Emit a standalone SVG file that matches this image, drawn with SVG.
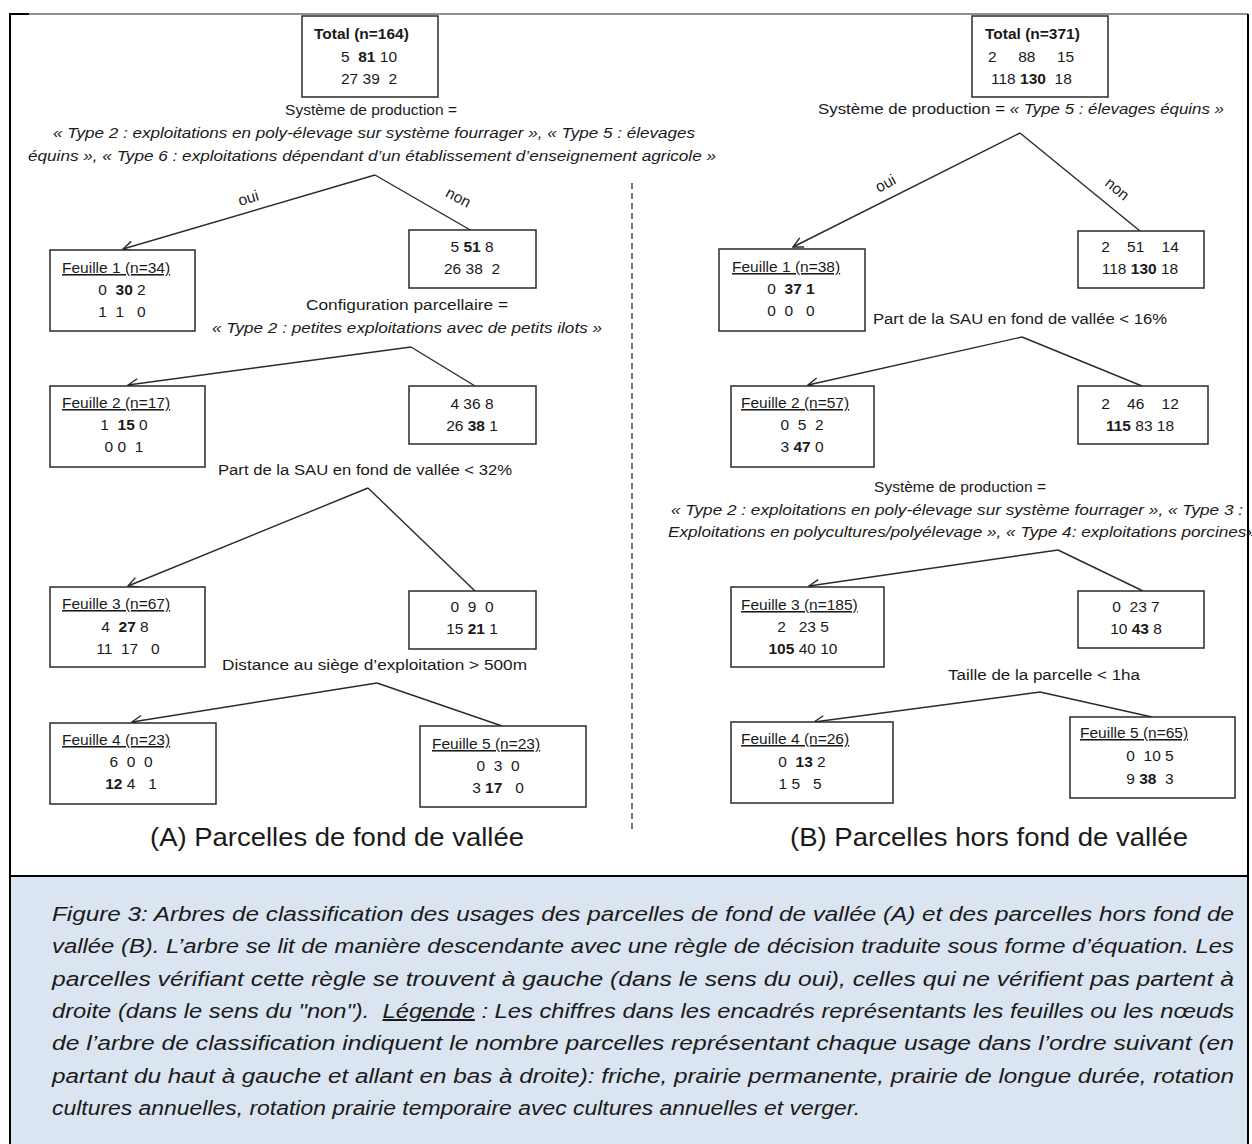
<svg xmlns="http://www.w3.org/2000/svg" width="1252" height="1144" viewBox="0 0 1252 1144">
<style>
.bx{fill:#fff;stroke:#2a2a2a;stroke-width:1.5}
.t{font-family:"Liberation Sans",Arial,sans-serif;font-size:15.5px;fill:#1a1a1a}
.c{text-anchor:middle}
.b{font-weight:bold}
.i{font-style:italic}
.u{text-decoration:underline}
.ln{fill:none;stroke:#2a2a2a;stroke-width:1.4}
.cap{font-family:"Liberation Sans",Arial,sans-serif;font-size:20px;font-style:italic;fill:#1a1a1a}
.ttl{font-family:"Liberation Sans",Arial,sans-serif;font-size:25px;fill:#1a1a1a}
</style>
<defs>
<marker id="ah" viewBox="0 0 12 12" refX="11" refY="6" markerWidth="12" markerHeight="12" markerUnits="userSpaceOnUse" orient="auto">
<path d="M1,1 L11,6 L1,11" fill="none" stroke="#2a2a2a" stroke-width="1.4"/>
</marker>
</defs>
<rect x="0" y="0" width="1252" height="1144" fill="#fff"/>
<!-- frame -->
<rect x="10" y="877" width="1238" height="267" fill="#dbe5f1"/>
<line x1="9" y1="14" x2="1248" y2="14" stroke="#222" stroke-width="1"/>
<line x1="9" y1="14" x2="29" y2="14" stroke="#000" stroke-width="2"/>
<line x1="10" y1="14" x2="10" y2="1144" stroke="#000" stroke-width="2"/>
<line x1="1248" y1="14" x2="1248" y2="1144" stroke="#000" stroke-width="2"/>
<line x1="10" y1="876" x2="1248" y2="876" stroke="#000" stroke-width="2"/>
<line x1="632" y1="183" x2="632" y2="830" stroke="#2a2a2a" stroke-width="1.3" stroke-dasharray="6 4"/>

<g id="connectors">
<path class="ln" d="M375,175 L123,249" marker-end="url(#ah)"/>
<path class="ln" d="M375,175 L472,231"/>
<path class="ln" d="M411,347 L128,385" marker-end="url(#ah)"/>
<path class="ln" d="M411,347 L475,386"/>
<path class="ln" d="M368,488 L128,586" marker-end="url(#ah)"/>
<path class="ln" d="M368,488 L475,591"/>
<path class="ln" d="M377,683 L132,722" marker-end="url(#ah)"/>
<path class="ln" d="M377,683 L502,726"/>
<path class="ln" d="M1020,133 L793,247" marker-end="url(#ah)"/>
<path class="ln" d="M1020,133 L1140,231"/>
<path class="ln" d="M1022,337 L808,385" marker-end="url(#ah)"/>
<path class="ln" d="M1022,337 L1142,386"/>
<path class="ln" d="M1058,550 L809,586" marker-end="url(#ah)"/>
<path class="ln" d="M1058,550 L1143,591"/>
<path class="ln" d="M1040,692 L814,722" marker-end="url(#ah)"/>
<path class="ln" d="M1040,692 L1152,717"/>
<text class="t c" transform="translate(250,203) rotate(-17)">oui</text>
<text class="t c" transform="translate(456,202) rotate(28)">non</text>
<text class="t c" transform="translate(888,188) rotate(-28)">oui</text>
<text class="t c" transform="translate(1114,193) rotate(39)">non</text>
</g>

<!-- condition labels -->
<g id="rules">
<text class="t c" x="371" y="115">Système de production =</text>
<text class="t i" x="53" y="138" textLength="642" lengthAdjust="spacingAndGlyphs">« Type 2 : exploitations en poly-élevage sur système fourrager », « Type 5 :  élevages</text>
<text class="t i" x="28" y="161" textLength="688" lengthAdjust="spacingAndGlyphs">équins », « Type 6 : exploitations dépendant d’un établissement d’enseignement agricole »</text>
<text class="t" x="306" y="310" textLength="202" lengthAdjust="spacingAndGlyphs">Configuration parcellaire =</text>
<text class="t i" x="212" y="333" textLength="390" lengthAdjust="spacingAndGlyphs">« Type 2 : petites exploitations avec de petits ilots »</text>
<text class="t" x="218" y="475" textLength="294" lengthAdjust="spacingAndGlyphs">Part de la SAU en fond de vallée &lt; 32%</text>
<text class="t" x="222" y="670" textLength="305" lengthAdjust="spacingAndGlyphs">Distance au siège d’exploitation &gt; 500m</text>
<text class="t" x="818" y="114" textLength="406" lengthAdjust="spacingAndGlyphs">Système de production = <tspan class="i">« Type 5 :  élevages équins »</tspan></text>
<text class="t" x="873" y="324" textLength="294" lengthAdjust="spacingAndGlyphs">Part de la SAU en fond de vallée &lt; 16%</text>
<text class="t c" x="960" y="492">Système de production =</text>
<text class="t i" x="671" y="515" textLength="572" lengthAdjust="spacingAndGlyphs">« Type 2 : exploitations en poly-élevage sur système fourrager », « Type 3 :</text>
<text class="t i" x="668" y="537" textLength="588" lengthAdjust="spacingAndGlyphs">Exploitations en polycultures/polyélevage  », « Type 4: exploitations porcines»</text>
<text class="t" x="948" y="680" textLength="192" lengthAdjust="spacingAndGlyphs">Taille de la parcelle &lt; 1ha</text>
</g>

<!-- Left tree -->
<g id="A-total">
<rect class="bx" x="302" y="16" width="136" height="81"/>
<text class="t b" x="314" y="39">Total (n=164)</text>
<text class="t c" x="369" y="62" xml:space="preserve">5  <tspan class="b">81</tspan> 10</text>
<text class="t c" x="369" y="84" xml:space="preserve">27 39  2</text>
</g>
<g id="A-feuille1">
<rect class="bx" x="50" y="250" width="145" height="81"/>
<text class="t u" x="62" y="273">Feuille 1 (n=34)</text>
<text class="t c" x="122" y="295" xml:space="preserve">0  <tspan class="b">30</tspan> 2</text>
<text class="t c" x="122" y="317" xml:space="preserve">1  1   0</text>
</g>
<g id="A-node1">
<rect class="bx" x="409" y="230" width="127" height="58"/>
<text class="t c" x="472" y="252" xml:space="preserve">5 <tspan class="b">51</tspan> 8</text>
<text class="t c" x="472" y="274" xml:space="preserve">26 38  2</text>
</g>
<g id="A-feuille2">
<rect class="bx" x="50" y="386" width="155" height="81"/>
<text class="t u" x="62" y="408">Feuille 2 (n=17)</text>
<text class="t c" x="124" y="430" xml:space="preserve">1  <tspan class="b">15</tspan> 0</text>
<text class="t c" x="124" y="452" xml:space="preserve">0 0  1</text>
</g>
<g id="A-node2">
<rect class="bx" x="409" y="386" width="127" height="58"/>
<text class="t c" x="472" y="409" xml:space="preserve">4 36 8</text>
<text class="t c" x="472" y="431" xml:space="preserve">26 <tspan class="b">38</tspan> 1</text>
</g>
<g id="A-feuille3">
<rect class="bx" x="50" y="587" width="155" height="80"/>
<text class="t u" x="62" y="609">Feuille 3 (n=67)</text>
<text class="t c" x="125" y="632" xml:space="preserve">4  <tspan class="b">27</tspan> 8</text>
<text class="t c" x="128" y="654" xml:space="preserve">11  17   0</text>
</g>
<g id="A-node3">
<rect class="bx" x="409" y="591" width="127" height="58"/>
<text class="t c" x="472" y="612" xml:space="preserve">0  9  0</text>
<text class="t c" x="472" y="634" xml:space="preserve">15 <tspan class="b">21</tspan> 1</text>
</g>
<g id="A-feuille4">
<rect class="bx" x="50" y="723" width="166" height="81"/>
<text class="t u" x="62" y="745">Feuille 4 (n=23)</text>
<text class="t c" x="131" y="767" xml:space="preserve">6  0  0</text>
<text class="t c" x="131" y="789" xml:space="preserve"><tspan class="b">12</tspan> 4   1</text>
</g>
<g id="A-feuille5">
<rect class="bx" x="420" y="726" width="166" height="81"/>
<text class="t u" x="432" y="749">Feuille 5 (n=23)</text>
<text class="t c" x="498" y="771" xml:space="preserve">0  3  0</text>
<text class="t c" x="498" y="793" xml:space="preserve">3 <tspan class="b">17</tspan>   0</text>
</g>
<text class="ttl" x="150" y="846" textLength="374" lengthAdjust="spacingAndGlyphs">(A) Parcelles de fond de vallée</text>

<!-- Right tree -->
<g id="B-total">
<rect class="bx" x="972" y="16" width="136" height="81"/>
<text class="t b" x="985" y="39">Total (n=371)</text>
<text class="t" x="988" y="62" xml:space="preserve">2     88     15</text>
<text class="t" x="991" y="84" xml:space="preserve">118 <tspan class="b">130</tspan>  18</text>
</g>
<g id="B-feuille1">
<rect class="bx" x="719" y="249" width="146" height="82"/>
<text class="t u" x="732" y="272">Feuille 1 (n=38)</text>
<text class="t c" x="791" y="294" xml:space="preserve">0  <tspan class="b">37 1</tspan></text>
<text class="t c" x="791" y="316" xml:space="preserve">0  0   0</text>
</g>
<g id="B-node1">
<rect class="bx" x="1078" y="231" width="126" height="57"/>
<text class="t c" x="1140" y="252" xml:space="preserve">2    51    14</text>
<text class="t c" x="1140" y="274" xml:space="preserve">118 <tspan class="b">130</tspan> 18</text>
</g>
<g id="B-feuille2">
<rect class="bx" x="731" y="386" width="143" height="81"/>
<text class="t u" x="741" y="408">Feuille 2 (n=57)</text>
<text class="t c" x="802" y="430" xml:space="preserve">0  5  2</text>
<text class="t c" x="802" y="452" xml:space="preserve">3 <tspan class="b">47</tspan> 0</text>
</g>
<g id="B-node2">
<rect class="bx" x="1078" y="386" width="130" height="58"/>
<text class="t c" x="1140" y="409" xml:space="preserve">2    46    12</text>
<text class="t c" x="1140" y="431" xml:space="preserve"><tspan class="b">115</tspan> 83 18</text>
</g>
<g id="B-feuille3">
<rect class="bx" x="731" y="587" width="153" height="80"/>
<text class="t u" x="741" y="610">Feuille 3 (n=185)</text>
<text class="t c" x="803" y="632" xml:space="preserve">2   23 5</text>
<text class="t c" x="803" y="654" xml:space="preserve"><tspan class="b">105</tspan> 40 10</text>
</g>
<g id="B-node3">
<rect class="bx" x="1078" y="591" width="126" height="57"/>
<text class="t c" x="1136" y="612" xml:space="preserve">0  23 7</text>
<text class="t c" x="1136" y="634" xml:space="preserve">10 <tspan class="b">43</tspan> 8</text>
</g>
<g id="B-feuille4">
<rect class="bx" x="731" y="722" width="162" height="81"/>
<text class="t u" x="741" y="744">Feuille 4 (n=26)</text>
<text class="t c" x="802" y="767" xml:space="preserve">0  <tspan class="b">13</tspan> 2</text>
<text class="t c" x="800" y="789" xml:space="preserve">1 5   5</text>
</g>
<g id="B-feuille5">
<rect class="bx" x="1070" y="717" width="165" height="81"/>
<text class="t u" x="1080" y="738">Feuille 5 (n=65)</text>
<text class="t c" x="1150" y="761" xml:space="preserve">0  10 5</text>
<text class="t c" x="1150" y="784" xml:space="preserve">9 <tspan class="b">38</tspan>  3</text>
</g>
<text class="ttl" x="790" y="846" textLength="398" lengthAdjust="spacingAndGlyphs">(B) Parcelles hors fond de vallée</text>

<!-- caption -->
<g id="caption">
<text class="cap" x="52" y="921" textLength="1182" lengthAdjust="spacingAndGlyphs">Figure 3: Arbres de classification des usages des parcelles de fond de vallée (A) et des parcelles hors fond de</text>
<text class="cap" x="52" y="953" textLength="1182" lengthAdjust="spacingAndGlyphs">vallée (B). L’arbre se lit de manière descendante avec une règle de décision traduite sous forme d’équation. Les</text>
<text class="cap" x="52" y="986" textLength="1182" lengthAdjust="spacingAndGlyphs">parcelles vérifiant cette règle se trouvent à gauche (dans le sens du oui), celles qui ne vérifient pas partent à</text>
<text class="cap" x="52" y="1018" textLength="1182" lengthAdjust="spacingAndGlyphs" xml:space="preserve">droite (dans le sens du "non").  <tspan class="u">Légende</tspan> : Les chiffres dans les encadrés représentants les feuilles ou les nœuds</text>
<text class="cap" x="52" y="1050" textLength="1182" lengthAdjust="spacingAndGlyphs">de l’arbre de classification indiquent le nombre parcelles représentant chaque usage dans l’ordre suivant (en</text>
<text class="cap" x="52" y="1083" textLength="1182" lengthAdjust="spacingAndGlyphs">partant du haut à gauche et allant en bas à droite): friche, prairie permanente, prairie de longue durée, rotation</text>
<text class="cap" x="52" y="1115" textLength="808" lengthAdjust="spacingAndGlyphs">cultures annuelles, rotation prairie temporaire avec cultures annuelles et verger.</text>
</g>
</svg>
